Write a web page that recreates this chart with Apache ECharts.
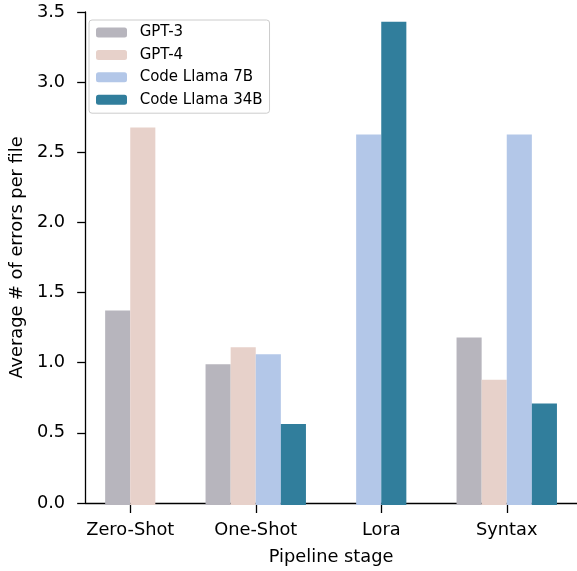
<!DOCTYPE html>
<html>
<head>
<meta charset="utf-8">
<script src="https://cdn.jsdelivr.net/npm/echarts@6/dist/echarts.min.js"></script>
<style>
html,body{margin:0;padding:0;background:#fff;}
#chart{width:577px;height:571px;}
</style>
</head>
<body>
<div id="chart"></div>
<script>
const categories = ['Zero-Shot', 'One-Shot', 'Lora', 'Syntax'];
const seriesNames = ['GPT-3', 'GPT-4', 'Code Llama 7B', 'Code Llama 34B'];
const gpt3 = [1.38, 1.0, null, 1.19];
const gpt4 = [2.68, 1.12, null, 0.89];
const codeLlama7B = [null, 1.07, 2.63, 2.63];
const codeLlama34B = [null, 0.575, 3.43, 0.72];
const colors = ['#b7b5bd', '#e7d1ca', '#b3c7e8', '#317e9c'];
const yTicks = [0, 0.5, 1.0, 1.5, 2.0, 2.5, 3.0, 3.5];

const FONT = 'DejaVu Sans';
const axisColor = '#000';
const TICK_FS = 17.8;
const seriesData = [gpt3, gpt4, codeLlama7B, codeLlama34B];

// Groups: categories with all series present use 4-slot layout (axis 0);
// categories with missing series place present bars centered (axis 2, stacked slots).
const presentIdx = categories.map((c, ci) => seriesData.map((d, si) => d[ci] != null ? si : -1).filter(si => si >= 0));
const isFull = presentIdx.map(p => p.length === seriesData.length);

const series = [];
seriesNames.forEach((name, si) => {
  series.push({
    name: name, type: 'bar', xAxisIndex: 0, yAxisIndex: 0,
    data: seriesData[si].map((v, ci) => (isFull[ci] && v != null) ? v : '-'),
    barGap: '0%', barCategoryGap: '20%',
    itemStyle: {color: colors[si]}, z: 1
  });
});
const maxPartial = Math.max(...presentIdx.map((p, ci) => isFull[ci] ? 0 : p.length));
seriesNames.forEach((name, si) => {
  for (let k = 0; k < maxPartial; k++) {
    const data = seriesData[si].map((v, ci) => (!isFull[ci] && presentIdx[ci][k] === si) ? v : '-');
    if (data.some(v => v !== '-')) {
      series.push({
        name: name, type: 'bar', xAxisIndex: 2, yAxisIndex: 0,
        stack: 'slot' + k, data: data,
        barGap: '0%', barCategoryGap: '60%',
        itemStyle: {color: colors[si]}, z: 1
      });
    }
  }
});

const chart = echarts.init(document.getElementById('chart'), null, {renderer: 'canvas'});
chart.setOption({
  animation: false,
  backgroundColor: '#fff',
  textStyle: {fontFamily: FONT},
  grid: [
    {left: 67.5, right: 7.5, top: 12, bottom: 66},
    {left: 82, right: 0, top: 12, bottom: 66}
  ],
  legend: {
    data: seriesNames,
    orient: 'vertical',
    left: 89, top: 20,
    padding: [5, 7, 6, 7],
    itemWidth: 31, itemHeight: 10, itemGap: 7.4,
    borderColor: '#cccccc', borderWidth: 1, borderRadius: 3,
    backgroundColor: 'rgba(255,255,255,0.8)',
    textStyle: {fontFamily: FONT, fontSize: 15, color: '#000', lineHeight: 15, padding: [0, 0, 0, 7.7]},
    itemStyle: {borderWidth: 0}
  },
  xAxis: [
    {
      gridIndex: 0, type: 'category', data: categories,
      axisLine: {show: false},
      axisTick: {show: true, alignWithLabel: true, length: 8, lineStyle: {color: axisColor, width: 1.3}},
      axisLabel: {fontFamily: FONT, fontSize: TICK_FS, color: '#000', margin: 16},
      splitLine: {show: false}
    },
    {
      gridIndex: 1, type: 'value', min: 0, max: 1,
      axisLine: {show: true, onZero: false, lineStyle: {color: axisColor, width: 1.3}},
      axisTick: {show: false}, axisLabel: {show: false}, splitLine: {show: false},
      name: 'Pipeline stage', nameLocation: 'middle', nameGap: 45,
      nameTextStyle: {fontFamily: FONT, fontSize: TICK_FS, color: '#000'}
    },
    {
      gridIndex: 0, type: 'category', data: categories, show: false
    }
  ],
  yAxis: [
    {gridIndex: 0, type: 'value', min: 0, max: 3.5, interval: 0.5, show: false, splitLine: {show: false}},
    {
      gridIndex: 1, type: 'value', min: 0, max: 3.5, interval: 0.5,
      axisLine: {show: true, lineStyle: {color: axisColor, width: 1.3}},
      axisTick: {show: true, length: 8, lineStyle: {color: axisColor, width: 1.3}},
      axisLabel: {fontFamily: FONT, fontSize: TICK_FS, color: '#000', margin: 20,
        formatter: v => yTicks.includes(v) ? v.toFixed(1) : ''},
      splitLine: {show: false},
      name: 'Average # of errors per file', nameLocation: 'middle', nameGap: 56,
      nameTextStyle: {fontFamily: FONT, fontSize: TICK_FS, color: '#000'}
    }
  ],
  series: series
});
</script>
</body>
</html>
